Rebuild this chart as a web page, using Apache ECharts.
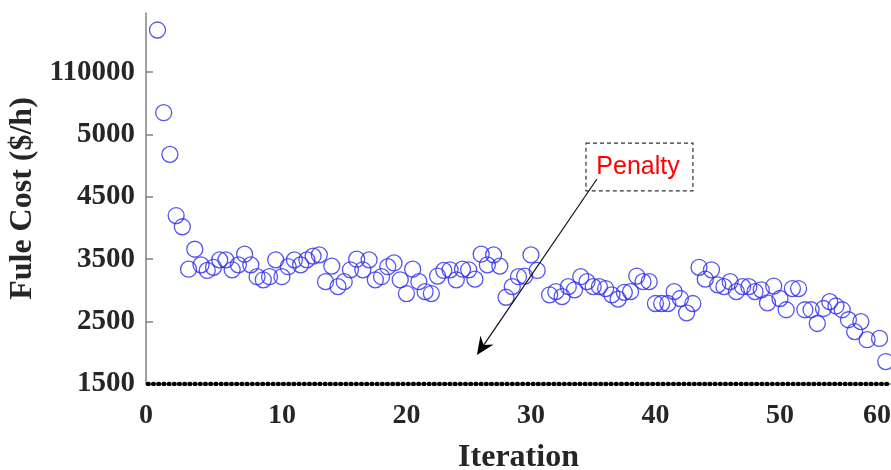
<!DOCTYPE html>
<html>
<head>
<meta charset="utf-8">
<script src="https://cdn.jsdelivr.net/npm/echarts@6/dist/echarts.min.js"></script>
<style>
html,body{margin:0;padding:0;background:#fff;}
#chart{width:891px;height:470px;}
</style>
</head>
<body>
<div id="chart"></div>
<script>
// ---- data ----
const iterations = [0,0.5,1,1.5,2,2.5,3,3.5,4,4.5,5,5.5,6,6.5,7,7.5,8,8.5,9,9.5,
  10,10.5,11,11.5,12,12.5,13,13.5,14,14.5,15,15.5,16,16.5,17,17.5,18,18.5,19,19.5,
  20,20.5,21,21.5,22,22.5,23,23.5,24,24.5,25,25.5,26,26.5,27,27.5,28,28.5,29,29.5,
  30,30.5,31.5,32,32.5,33,33.5,34,34.5,35,35.5,36,36.5,37,37.5,38,38.5,39,39.5,
  40,40.5,41,41.5,42,42.5,43,43.5,44,44.5,45,45.5,46,46.5,47,47.5,48,48.5,49,49.5,
  50,50.5,51,51.5,52,52.5,53,53.5,54,54.5,55,55.5,56,56.5,57,58,58.5];
const fuelCost = [180700,41540,4840,4200,4020,3340,3660,3410,3320,3370,3490,3490,3330,3410,3580,3410,3220,3170,3220,3490,
  3220,3380,3490,3410,3490,3550,3570,3140,3390,3060,3140,3330,3500,3330,3490,3170,3220,3380,3440,3170,
  2950,3340,3140,2980,2950,3230,3320,3330,3170,3340,3330,3180,3580,3410,3570,3390,2890,3060,3220,3230,
  3570,3320,2930,2980,2900,3060,3010,3220,3140,3060,3060,3030,2930,2860,2970,2980,3230,3140,3140,
  2790,2790,2790,2980,2870,2640,2790,3370,3180,3330,3090,3060,3140,2980,3060,3060,2980,3010,2800,3070,
  2870,2690,3030,3030,2690,2690,2470,2710,2820,2750,2690,2530,2340,2500,2210,2230,1860];
const penaltyIter = [-0.76, 58.92];
const penaltyCost = [1500, 1500];
const yTickValues = [1500, 2500, 3500, 4500, 5000, 110000];
const yTickLabels = ['1500', '2500', '3500', '4500', '5000', '110000'];
const xTickValues = [-0.92, 10, 20, 30, 40, 50, 57.8];
const xTickLabels = ['0', '10', '20', '30', '40', '50', '60'];
const annotationText = 'Penalty';
// annotation anchors in data units [iteration, cost]
const boxCorner1 = [34.42, 4931];
const boxCorner2 = [43.01, 4547];
const textAnchor = [38.6, 4739];
const arrowTail = [35.3, 4643];
const arrowTip = [25.66, 1965];

// piecewise mapping of the (non-uniform) cost axis to axis position
function toAxis(v) {
  const t = yTickValues;
  for (let i = 0; i < t.length - 1; i++) {
    if (v <= t[i + 1]) return i + (v - t[i]) / (t[i + 1] - t[i]);
  }
  const n = t.length - 1;
  return n + (v - t[n]) / (t[n] - t[n - 1]);
}

const XMIN = -0.92, XMAX = 58.92, YMIN = 0, YMAX = 5.946;
const serif = 'Liberation Serif';
const chart = echarts.init(document.getElementById('chart'), null, {renderer: 'canvas'});

const option = {
  animation: false,
  backgroundColor: '#ffffff',
  grid: {left: 146, right: 0, top: 13, bottom: 86, outerBoundsMode: 'none', containLabel: false},
  xAxis: {
    type: 'value', min: XMIN, max: XMAX,
    name: 'Iteration', nameLocation: 'middle', nameGap: 58,
    nameTextStyle: {fontFamily: serif, fontWeight: 'bold', fontSize: 32, color: '#262626'},
    axisLine: {show: true, onZero: false, lineStyle: {color: '#808080', width: 1.5}},
    axisTick: {show: false},
    splitLine: {show: false},
    axisLabel: {
      customValues: xTickValues, margin: 18,
      fontFamily: serif, fontWeight: 'bold', fontSize: 28, color: '#262626',
      formatter: function (v) {
        let best = 0;
        for (let i = 0; i < xTickValues.length; i++) if (Math.abs(xTickValues[i] - v) < Math.abs(xTickValues[best] - v)) best = i;
        return xTickLabels[best];
      }
    }
  },
  yAxis: {
    type: 'value', min: YMIN, max: YMAX,
    name: 'Fule Cost ($/h)', nameLocation: 'middle', nameGap: 106, nameRotate: 90,
    nameTextStyle: {fontFamily: serif, fontWeight: 'bold', fontSize: 32, color: '#262626'},
    axisLine: {show: true, onZero: false, lineStyle: {color: '#808080', width: 1.5}},
    axisTick: {show: true, inside: true, length: 7, customValues: yTickValues.map(toAxis), lineStyle: {color: '#808080', width: 1.5}},
    splitLine: {show: false},
    axisLabel: {
      customValues: yTickValues.map(toAxis), margin: 11,
      fontFamily: serif, fontWeight: 'bold', fontSize: 29, color: '#262626',
      formatter: function (v) { return yTickLabels[Math.round(v)]; }
    }
  },
  series: [
    {
      type: 'line', name: 'Penalty',
      data: penaltyIter.map((x, i) => [x, toAxis(penaltyCost[i])]),
      symbol: 'none', z: 5,
      lineStyle: {color: '#000', width: 4.4, type: [0.6, 4.6], cap: 'round'}
    },
    {
      type: 'scatter', name: 'Fuel cost',
      data: iterations.map((x, i) => [x, toAxis(fuelCost[i])]),
      symbol: 'circle', symbolSize: 16, z: 4,
      itemStyle: {color: 'rgba(0,0,0,0)', borderColor: '#2a2aee', borderWidth: 1.3}
    }
  ]
};
chart.setOption(option);

function px(p) { return chart.convertToPixel({gridIndex: 0}, [p[0], toAxis(p[1])]); }
const b1 = px(boxCorner1), b2 = px(boxCorner2), tp = px(textAnchor), at = px(arrowTail), ah = px(arrowTip);
const dx = ah[0] - at[0], dy = ah[1] - at[1];
const L = Math.sqrt(dx * dx + dy * dy);
const ux = dx / L, uy = dy / L, nx = -uy, ny = ux;
const headLen = 18, headHalf = 8, notch = 12;
const base = [ah[0] - ux * headLen, ah[1] - uy * headLen];
const notchPt = [ah[0] - ux * notch, ah[1] - uy * notch];
chart.setOption({
  graphic: [
    {type: 'rect', shape: {x: b1[0], y: b1[1], width: b2[0] - b1[0], height: b2[1] - b1[1]},
      style: {fill: 'none', stroke: '#333', lineWidth: 1.2, lineDash: [4, 3]}, z: 10},
    {type: 'text', x: tp[0], y: tp[1],
      style: {text: annotationText, fill: '#ff0000', font: '25px "Liberation Sans"', align: 'center', verticalAlign: 'middle'}, z: 11},
    {type: 'line', shape: {x1: at[0], y1: at[1], x2: notchPt[0], y2: notchPt[1]},
      style: {stroke: '#111', lineWidth: 1.2}, z: 10},
    {type: 'polygon', shape: {points: [ah, [base[0] + nx * headHalf, base[1] + ny * headHalf], notchPt, [base[0] - nx * headHalf, base[1] - ny * headHalf]]},
      style: {fill: '#000'}, z: 10}
  ]
});
</script>
</body>
</html>
